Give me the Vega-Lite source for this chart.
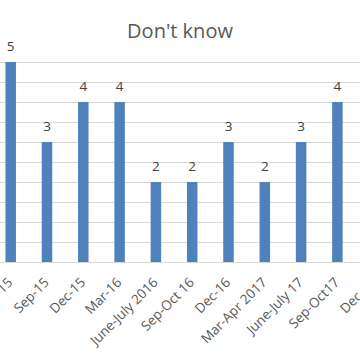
{
  "$schema": "https://vega.github.io/schema/vega-lite/v6.json",
  "autosize": "none",
  "width": 360,
  "height": 200,
  "padding": {"top": 62, "left": 0, "right": 0, "bottom": 98},
  "background": "white",
  "config": {"view": {"stroke": null}, "font": "Open Sans"},
  "title": {"text": "Don't know", "fontSize": 20, "font": "Open Sans", "fontWeight": "normal", "color": "#595959", "anchor": "middle", "offset": -2},
  "data": {"values": [
    {"period": "Jun-15", "value": 5},
    {"period": "Sep-15", "value": 3},
    {"period": "Dec-15", "value": 4},
    {"period": "Mar-16", "value": 4},
    {"period": "June-July 2016", "value": 2},
    {"period": "Sep-Oct 16", "value": 2},
    {"period": "Dec-16", "value": 3},
    {"period": "Mar-Apr 2017", "value": 2},
    {"period": "June-July 17", "value": 3},
    {"period": "Sep-Oct17", "value": 4},
    {"period": "Dec-17", "value": 3}
  ]},
  "encoding": {
    "x": {"field": "period", "type": "nominal", "sort": null,
      "scale": {"type": "band", "range": [-7.45, 391.85], "paddingInner": 0, "paddingOuter": 0},
      "axis": {"title": null, "labelAngle": -45, "labelAlign": "right", "labelBaseline": "middle", "labelPadding": 18, "ticks": false, "labelFontSize": 13.5, "labelColor": "#595959", "domainColor": "#d9d9d9", "grid": false, "labelOverlap": false, "labelBound": false}},
    "y": {"field": "value", "type": "quantitative",
      "scale": {"domain": [0, 5], "nice": false},
      "axis": {"title": null, "labels": false, "ticks": false, "domain": false, "values": [0, 0.5, 1, 1.5, 2, 2.5, 3, 3.5, 4, 4.5, 5], "gridColor": "#d9d9d9"}}
  },
  "layer": [
    {"mark": {"type": "bar", "width": 10.5, "color": "#4F81BD"}},
    {"mark": {"type": "text", "baseline": "alphabetic", "dy": -11, "fontSize": 13.5, "color": "#404040"}, "encoding": {"text": {"field": "value", "type": "quantitative"}}}
  ]
}
